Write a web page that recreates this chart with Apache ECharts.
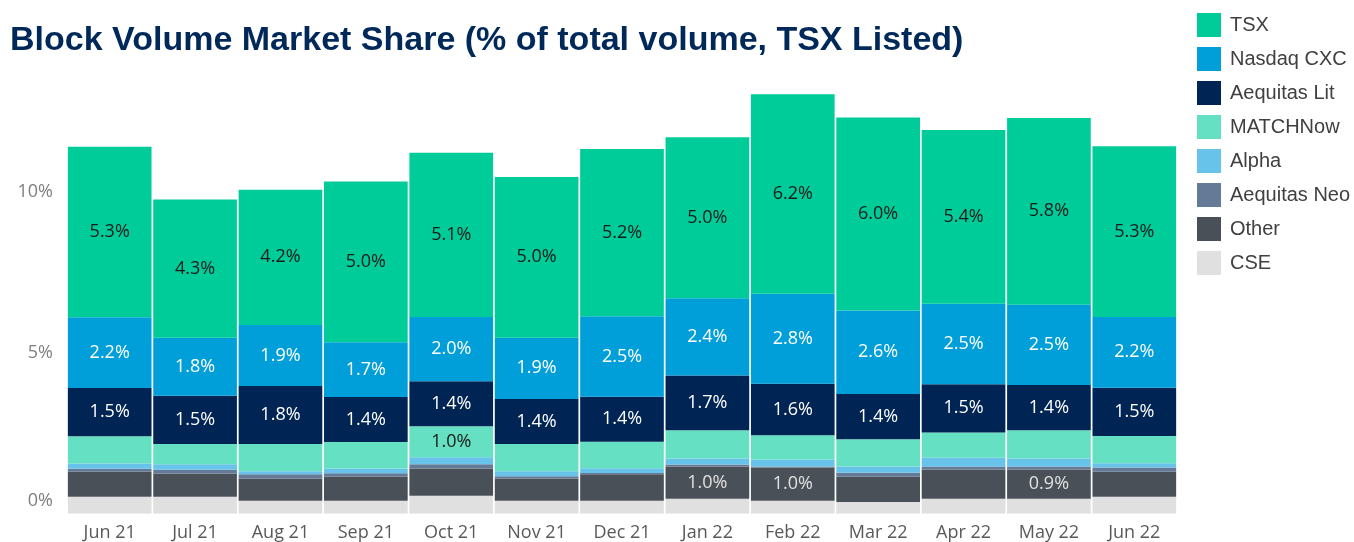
<!DOCTYPE html>
<html>
<head>
<meta charset="utf-8">
<title>Block Volume Market Share</title>
<script src="https://cdn.jsdelivr.net/npm/echarts@6/dist/echarts.min.js"></script>
<style>
  html, body { margin: 0; padding: 0; background: #fff; }
  #chart { width: 1354px; height: 542px; }
</style>
</head>
<body>
<div id="chart"></div>
<script>
// months on the x axis
var months = ['Jun 21', 'Jul 21', 'Aug 21', 'Sep 21', 'Oct 21', 'Nov 21', 'Dec 21',
  'Jan 22', 'Feb 22', 'Mar 22', 'Apr 22', 'May 22', 'Jun 22'];

// share of total volume, in %
var tsx      = [5.3, 4.3, 4.2, 5.0, 5.1, 5.0, 5.2, 5.0, 6.2, 6.0, 5.4, 5.8, 5.3];
var nasdaq   = [2.2, 1.8, 1.9, 1.7, 2.0, 1.9, 2.5, 2.4, 2.8, 2.6, 2.5, 2.5, 2.2];
var lit      = [1.5, 1.5, 1.8, 1.4, 1.4, 1.4, 1.4, 1.7, 1.6, 1.4, 1.5, 1.4, 1.5];
var matchNow = [0.85, 0.63, 0.85, 0.82, 0.96, 0.85, 0.82, 0.88, 0.75, 0.85, 0.78, 0.88, 0.85];
var alpha    = [0.16, 0.17, 0.09, 0.15, 0.22, 0.15, 0.15, 0.19, 0.22, 0.19, 0.28, 0.25, 0.13];
var neo      = [0.09, 0.12, 0.13, 0.10, 0.13, 0.07, 0.04, 0.06, 0.03, 0.13, 0.09, 0.09, 0.13];
var other    = [0.78, 0.72, 0.69, 0.75, 0.85, 0.69, 0.82, 1.0, 1.03, 0.78, 0.91, 0.91, 0.78];
var cse      = [0.52, 0.52, 0.40, 0.40, 0.55, 0.40, 0.40, 0.46, 0.40, 0.36, 0.46, 0.46, 0.52];

// which small segments carry a value label
var matchLabelled = ['Oct 21'];
var otherLabelled = ['Jan 22', 'Feb 22', 'May 22'];

var yTicks = [0, 5, 10];

var labelFont = "'Open Sans', sans-serif";

function pct(p) {
  return p.value.toFixed(1) + '%';
}

// only some months get a label
function withLabels(values, shown) {
  return values.map(function (v, i) {
    return { value: v, label: { show: shown.indexOf(months[i]) >= 0 } };
  });
}

function bar(name, data, color, labelColor) {
  return {
    name: name,
    type: 'bar',
    stack: 'share',
    data: data,
    barCategoryGap: '2%',
    itemStyle: { color: color },
    label: {
      show: !!labelColor,
      position: 'inside',
      formatter: pct,
      color: labelColor || '#fff',
      fontFamily: labelFont,
      fontSize: 18
    }
  };
}

var chart = echarts.init(document.getElementById('chart'));

var option = {
  animation: false,
  title: {
    text: 'Block Volume Market Share (% of total volume, TSX Listed)',
    left: 5,
    top: 19,
    textStyle: {
      fontFamily: "'Liberation Sans', Arial, sans-serif",
      fontWeight: 'bold',
      fontSize: 34,
      color: '#00295a'
    }
  },
  legend: {
    orient: 'vertical',
    left: 1192,
    top: 8,
    itemWidth: 24,
    itemHeight: 24,
    itemGap: 10,
    icon: 'rect',
    data: ['TSX', 'Nasdaq CXC', 'Aequitas Lit', 'MATCHNow', 'Alpha', 'Aequitas Neo', 'Other', 'CSE'],
    textStyle: {
      fontFamily: "'Liberation Sans', Arial, sans-serif",
      fontSize: 20,
      color: '#404040',
      padding: [0, 0, 0, 4]
    }
  },
  grid: {
    left: 67,
    right: 177,
    top: 63,
    bottom: 28.5
  },
  xAxis: {
    type: 'category',
    data: months,
    axisLine: { show: false },
    axisTick: { show: false },
    axisLabel: {
      margin: 10,
      fontFamily: labelFont,
      fontSize: 18,
      color: '#595959'
    }
  },
  yAxis: {
    type: 'value',
    min: 0,
    max: 14,
    interval: 5,
    splitLine: { show: false },
    axisLine: { show: false },
    axisTick: { show: false },
    axisLabel: {
      margin: 14,
      fontFamily: labelFont,
      fontSize: 18,
      color: '#7f7f7f',
      formatter: function (v) {
        if (yTicks.indexOf(v) < 0) return '';
        if (v === 0) return '{z|0%}';
        return v + '%';
      },
      rich: {
        z: {
          fontFamily: labelFont,
          fontSize: 18,
          color: '#7f7f7f',
          padding: [0, 0, 26, 0]
        }
      }
    }
  },
  series: [
    bar('CSE', cse, '#dfe0df'),
    bar('Other', withLabels(other, otherLabelled), '#4a5058'),
    bar('Aequitas Neo', neo, '#657a96'),
    bar('Alpha', alpha, '#68c3ea'),
    bar('MATCHNow', withLabels(matchNow, matchLabelled), '#66e0c2'),
    bar('Aequitas Lit', lit, '#002554', '#ffffff'),
    bar('Nasdaq CXC', nasdaq, '#009fda', '#ffffff'),
    bar('TSX', tsx, '#00cc99', '#1a1a1a')
  ]
};

// label colours for the partly-labelled layers
option.series[1].label.color = '#e0e0e0';
option.series[4].label.color = '#1a1a1a';

chart.setOption(option);

window.addEventListener('resize', function () {
  chart.resize();
});
</script>
</body>
</html>
